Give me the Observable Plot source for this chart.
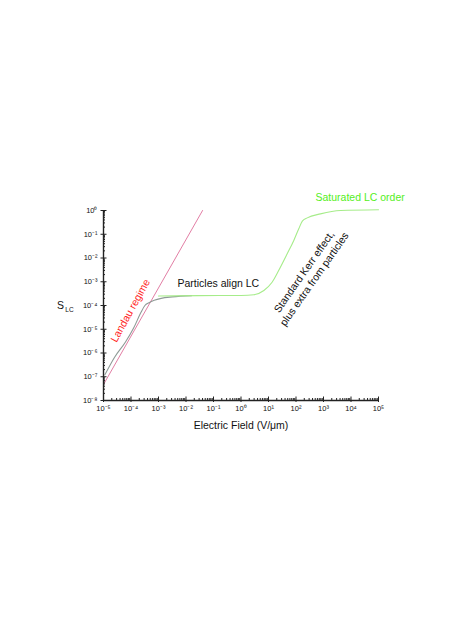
<!DOCTYPE html>
<html><head><meta charset="utf-8">
<script src="https://cdn.jsdelivr.net/npm/d3@7"></script>
<script src="https://cdn.jsdelivr.net/npm/@observablehq/plot@0.6"></script>
<style>body{margin:0;background:#fff;}</style>
</head><body><div id="chart"></div>
<script>
// Axis ticks
const xMajor = [1e-5,1e-4,1e-3,1e-2,1e-1,1e0,1e1,1e2,1e3,1e4,1e5];
const xLabels = ["10⁻⁵","10⁻⁴","10⁻³","10⁻²","10⁻¹","10⁰","10¹","10²","10³","10⁴","10⁵"];
const yMajor = [1e-8,1e-7,1e-6,1e-5,1e-4,1e-3,1e-2,1e-1,1e0];
const yLabels = ["10⁻⁸","10⁻⁷","10⁻⁶","10⁻⁵","10⁻⁴","10⁻³","10⁻²","10⁻¹","10⁰"];
const minorSteps = [2,3,4,5,6,7,8,9];
const xMinor = xMajor.slice(0,-1).flatMap(d => minorSteps.map(m => d*m));
const yMinor = yMajor.slice(0,-1).flatMap(d => minorSteps.map(m => d*m));

// Landau regime (power law, pink)
const landauE = [1e-5, 4.0e-2];
const landauS = [4.7e-8, 1.0];

// Particle-doped curve (grey), low field part
const greyE = [1.12e-5, 2.5e-5, 6.3e-5, 1.26e-4, 2.24e-4, 3.2e-4, 4.5e-4, 7e-4, 1.25e-3, 3.2e-3, 1.6e-2];
const greyS = [1.2e-7, 6.5e-7, 2.9e-6, 1.15e-5, 4.8e-5, 1.0e-4, 1.3e-4, 1.65e-4, 2.0e-4, 2.3e-4, 2.6e-4];

// Aligned / Kerr / saturated curve (green)
const greenE = [1e-3, 3e-2, 1e0, 2.95, 6.8, 13.5, 23.4, 47.9, 83.2, 126, 170, 257, 776, 4170, 1e5];
const greenS = [2.5e-4, 2.6e-4, 2.65e-4, 2.85e-4, 4.3e-4, 9.5e-4, 2.95e-3, 1.5e-2, 5.5e-2, 0.17, 0.355, 0.49, 0.72, 1.0, 1.07];

// Annotations
const noteText = ["Saturated LC order", "Particles align LC", "Landau regime", "Standard Kerr effect,\nplus extra from particles"];
const noteE = [5.1e2, 4.9e-3, 9.1e-5, 2.9e2];
const noteS = [3.9, 9.3e-4, 6.2e-5, 1.9e-3];
const noteRotate = [0, 0, -61, -55];
const noteColor = ["#55ee22", "#111111", "#ff2222", "#111111"];
const noteAnchor = ["start", "start", "middle", "middle"];

const pts = (E, S) => E.map((e, i) => ({E: e, S: S[i]}));
const notes = noteText.map((t, i) => ({t, E: noteE[i], S: noteS[i], r: noteRotate[i], c: noteColor[i], a: noteAnchor[i]}));
const font = "'Liberation Sans', Arial, sans-serif";
const blank = () => "";
const xFmt = d => xLabels[Math.round(Math.log10(d)) + 5];
const yFmt = d => yLabels[Math.round(Math.log10(d)) + 8];

const noteMark = anchor => Plot.text(notes.filter(n => n.a === anchor), {
  x: "E", y: "S", text: "t", rotate: "r", fill: "c", textAnchor: anchor,
  fontSize: 10.5, lineHeight: 1.2, lineAnchor: "middle"
});

const chart = Plot.plot({
  width: 467, height: 623,
  marginLeft: 103, marginRight: 89, marginTop: 210, marginBottom: 223,
  x: {type: "log", domain: [1e-5, 1e5], label: null},
  y: {type: "log", domain: [1e-8, 1], label: null},
  style: {fontFamily: font, background: "#fff", color: "#111"},
  marks: [
    Plot.line(pts(landauE, landauS), {x: "E", y: "S", stroke: "#e27ea4", strokeWidth: 1}),
    Plot.line(pts(greyE, greyS), {x: "E", y: "S", stroke: "#8e9a96", strokeWidth: 1.1, curve: "monotone-x"}),
    Plot.line(pts(greenE, greenS), {x: "E", y: "S", stroke: "#a6ec8a", strokeWidth: 1.1, curve: "monotone-x"}),
    // axes
    Plot.ruleY([1e-8], {stroke: "#222", strokeWidth: 1.4}),
    Plot.ruleX([1e-5], {stroke: "#222", strokeWidth: 1.4}),
    Plot.axisX({ticks: xMajor, tickSize: 2, tickFormat: blank, label: null, stroke: "#222"}),
    Plot.axisX({ticks: xMajor, tickSize: -3.5, tickFormat: xFmt, tickPadding: 9, fontSize: 7.5, label: null, stroke: "#222"}),
    Plot.axisX({ticks: xMinor, tickSize: -2, tickFormat: blank, label: null, stroke: "#222"}),
    Plot.axisY({ticks: yMajor, tickSize: 2.5, tickFormat: blank, label: null, stroke: "#222"}),
    Plot.axisY({ticks: yMajor, tickSize: -3.5, tickFormat: yFmt, tickPadding: 9.5, fontSize: 7.5, label: null, stroke: "#222"}),
    Plot.axisY({ticks: yMinor, tickSize: -2, tickFormat: blank, label: null, stroke: "#222"}),
    // axis titles
    Plot.text(["Electric Field (V/μm)"], {frameAnchor: "bottom", dy: 25, fontSize: 10.5, fill: "#111", lineAnchor: "middle"}),
    Plot.text(["S"], {frameAnchor: "left", y: [1e-4], dx: -43, fontSize: 10.5, fill: "#111", textAnchor: "middle"}),
    Plot.text(["LC"], {frameAnchor: "left", y: [1e-4], dx: -34, dy: 4, fontSize: 6.5, fill: "#111", textAnchor: "middle"}),
    // annotations
    noteMark("start"),
    noteMark("middle")
  ]
});
document.getElementById("chart").append(chart);
</script>
</body></html>
